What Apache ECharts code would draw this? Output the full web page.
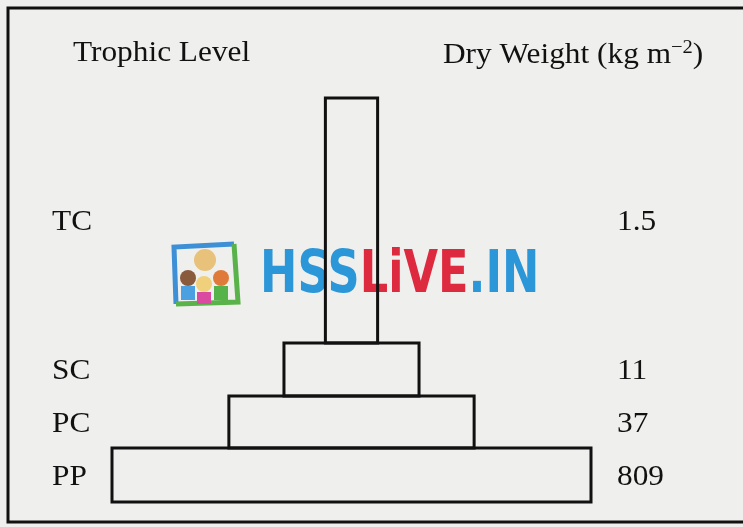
<!DOCTYPE html>
<html>
<head>
<meta charset="utf-8">
<script src="https://cdn.jsdelivr.net/npm/echarts@6/dist/echarts.min.js"></script>
<style>
html,body{margin:0;padding:0;background:#efefed;}
#chart{width:743px;height:527px;}
</style>
</head>
<body>
<div id="chart"></div>
<script>
// Trophic levels from bottom (producers) to top
const levels = ['PP', 'PC', 'SC', 'TC'];
// Dry weight (kg m^-2) as printed beside each level
const dryWeight = ['809', '37', '11', '1.5'];
// Relative tier widths of the drawn pyramid (PP = 100)
const tierWidth = [100, 51.2, 28.2, 10.9];
// Relative tier heights of the drawn pyramid
const tierHeight = [54, 52, 53, 245];
// Column headers
const headerLeft = 'Trophic Level';
const headerRight = 'Dry Weight (kg m';
const headerSup = '−2';

const SERIF = '"Liberation Serif","Times New Roman",serif';
const FS = 29;
const SX = 1.08;

let acc = 0;
const tiers = levels.map((lv, i) => {
  const y0 = acc;
  acc += tierHeight[i];
  return [-tierWidth[i] / 2, tierWidth[i] / 2, y0, acc];
});
const totalHeight = acc;

const chart = echarts.init(document.getElementById('chart'));
chart.setOption({
  backgroundColor: '#efefed',
  animation: false,
  grid: { left: 112, right: 152, top: 98, bottom: 25 },
  xAxis: { type: 'value', min: -50, max: 50, show: false },
  yAxis: { type: 'value', min: 0, max: totalHeight, show: false },
  graphic: [
    {
      type: 'rect', z: 0,
      shape: { x: 8, y: 8, width: 800, height: 514 },
      style: { fill: 'none', stroke: '#111', lineWidth: 3 }
    },
    {
      type: 'text', z: 1, x: 73, y: 39, scaleX: SX, originX: 0,
      style: { text: headerLeft, font: FS + 'px ' + SERIF, fill: '#111' }
    },
    {
      type: 'text', z: 1, x: 443, y: 39, scaleX: SX, originX: 0,
      style: {
        text: headerRight + '{sup|' + headerSup + '}' + ')',
        font: FS + 'px ' + SERIF, fill: '#111',
        rich: { sup: { font: '19px ' + SERIF, fill: '#111', padding: [0, 0, 14, 0] } }
      }
    },
    // watermark logo
    {
      type: 'group', z: 1,
      children: [
        { type: 'polyline', shape: { points: [[176, 304], [174, 247], [234, 244]] },
          style: { stroke: '#3d8fd6', lineWidth: 5, fill: 'none' } },
        { type: 'polyline', shape: { points: [[234, 244], [238, 302], [176, 304]] },
          style: { stroke: '#59b34a', lineWidth: 5, fill: 'none' } },
        { type: 'circle', shape: { cx: 205, cy: 260, r: 11 }, style: { fill: '#e8c27a' } },
        { type: 'circle', shape: { cx: 188, cy: 278, r: 8 }, style: { fill: '#8a5a3c' } },
        { type: 'circle', shape: { cx: 204, cy: 284, r: 8 }, style: { fill: '#f0d07a' } },
        { type: 'circle', shape: { cx: 221, cy: 278, r: 8 }, style: { fill: '#e07a3a' } },
        { type: 'rect', shape: { x: 181, y: 286, width: 14, height: 14 }, style: { fill: '#4aa0e0' } },
        { type: 'rect', shape: { x: 197, y: 292, width: 14, height: 12 }, style: { fill: '#d94aa0' } },
        { type: 'rect', shape: { x: 214, y: 286, width: 14, height: 14 }, style: { fill: '#55b34a' } }
      ]
    },
    {
      type: 'text', z: 1, x: 260, y: 277, scaleX: 0.77, originX: 0,
      style: {
        text: '{b|HSS}{r|LiVE}{b|.IN}',
        verticalAlign: 'middle',
        rich: {
          b: { font: 'bold 58px "DejaVu Sans"', fill: '#2b96d8' },
          r: { font: 'bold 58px "DejaVu Sans"', fill: '#de2a3e' }
        }
      }
    }
  ],
  series: [{
    type: 'custom',
    z: 5,
    data: tiers,
    renderItem: function (params, api) {
      const i = params.dataIndex;
      const tl = api.coord([api.value(0), api.value(3)]);
      const br = api.coord([api.value(1), api.value(2)]);
      const midY = (tl[1] + br[1]) / 2 + 2;
      return {
        type: 'group',
        children: [
          {
            type: 'rect',
            shape: { x: tl[0], y: tl[1], width: br[0] - tl[0], height: br[1] - tl[1] },
            style: { fill: 'none', stroke: '#111', lineWidth: 3 }
          },
          {
            type: 'text', x: 52, y: midY, scaleX: SX, originX: 0,
            style: { x: 0, y: 0, text: levels[i], font: FS + 'px ' + SERIF, fill: '#111', verticalAlign: 'middle', align: 'left' }
          },
          {
            type: 'text', x: 617, y: midY, scaleX: SX, originX: 0,
            style: { x: 0, y: 0, text: dryWeight[i], font: FS + 'px ' + SERIF, fill: '#111', verticalAlign: 'middle', align: 'left' }
          }
        ]
      };
    }
  }]
});
</script>
</body>
</html>
